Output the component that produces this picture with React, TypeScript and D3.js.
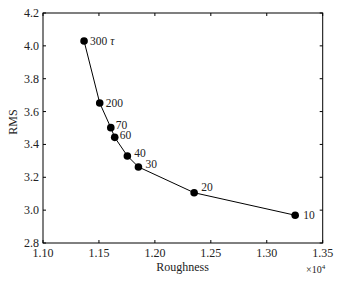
import React from "react";
import * as d3 from "d3";

const roughness = [1.1367, 1.1507, 1.1606, 1.1641, 1.1754, 1.1853, 1.2351, 1.3254];
const rms = [4.03, 3.652, 3.502, 3.443, 3.33, 3.263, 3.106, 2.969];
const labels = ["300 τ", "200", "70", "60", "40", "30", "20", "10"];
const labelDx = [6, 6, 5, 5, 7, 7, 7, 8];
const labelDy = [0, 0, -3, -2, -3, -3, -6, 0];
const xTicks = [1.1, 1.15, 1.2, 1.25, 1.3, 1.35];
const yTicks = [2.8, 3.0, 3.2, 3.4, 3.6, 3.8, 4.0, 4.2];

export default function App() {
  const W = 343, H = 282;
  const L = 43, R = 322.7, T = 13, B = 243;
  const x = d3.scaleLinear().domain([1.1, 1.35]).range([L, R]);
  const y = d3.scaleLinear().domain([2.8, 4.2]).range([B, T]);
  const line = d3.line<number>().x((d, i) => x(roughness[i])).y((d) => y(d));
  const font = "'Liberation Serif', 'Times New Roman', serif";
  const tl = 3;
  return (
    <svg width={W} height={H} style={{ position: "absolute", left: 0, top: 0, background: "#fff" }} fontFamily={font}>
      <rect x={0} y={0} width={W} height={H} fill="#fff" />
      <rect x={L} y={T} width={R - L} height={B - T} fill="none" stroke="#000" strokeWidth={1} />
      {xTicks.map((t) => (
        <g key={"x" + t}>
          <line x1={x(t)} x2={x(t)} y1={B} y2={B - tl} stroke="#000" />
          <line x1={x(t)} x2={x(t)} y1={T} y2={T + tl} stroke="#000" />
          <text x={x(t)} y={257} textAnchor="middle" fontSize={12} fill="#222">{t.toFixed(2)}</text>
        </g>
      ))}
      {yTicks.map((t) => (
        <g key={"y" + t}>
          <line x1={L} x2={L + tl} y1={y(t)} y2={y(t)} stroke="#000" />
          <line x1={R} x2={R - tl} y1={y(t)} y2={y(t)} stroke="#000" />
          <text x={39} y={y(t) + 4} textAnchor="end" fontSize={12} fill="#222">{t.toFixed(1)}</text>
        </g>
      ))}
      <text x={182.5} y={271} textAnchor="middle" fontSize={12} fill="#222">Roughness</text>
      <text x={306} y={273} fontSize={10} fill="#222">×10<tspan dy={-4} fontSize={7}>4</tspan></text>
      <text transform={`translate(17,122) rotate(-90)`} textAnchor="middle" fontSize={12} fill="#222">RMS</text>
      <path d={line(rms) || ""} fill="none" stroke="#000" strokeWidth={1} />
      {rms.map((v, i) => (
        <g key={"p" + i}>
          <circle cx={x(roughness[i])} cy={y(v)} r={3.8} fill="#000" />
          <text x={x(roughness[i]) + labelDx[i]} y={y(v) + labelDy[i] + 4} fontSize={11.5} fill="#222">
            {i === 0 ? <>300 <tspan fontStyle="italic">τ</tspan></> : labels[i]}
          </text>
        </g>
      ))}
    </svg>
  );
}
